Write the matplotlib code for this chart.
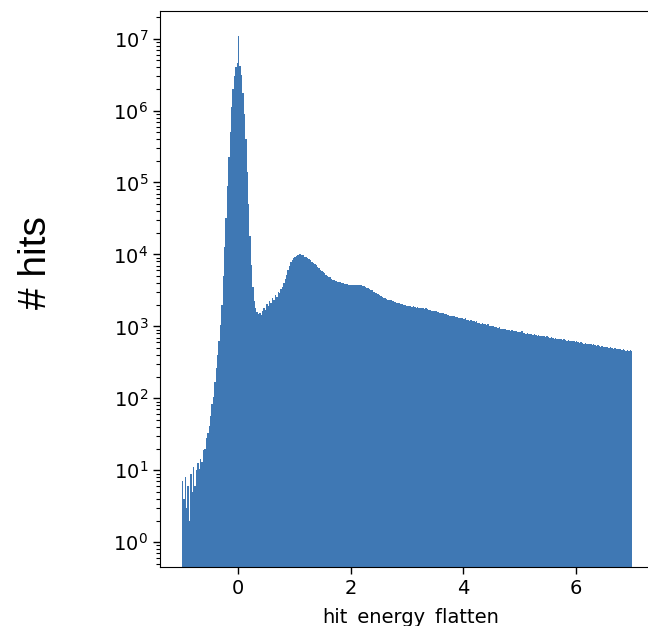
import numpy as np
import matplotlib
matplotlib.use("Agg")
import matplotlib.pyplot as plt
from matplotlib.ticker import LogLocator

# histogram of hit energy, bin width 0.025 from -1 to 7
bin_lo, bin_hi, bin_w = -1.0, 7.0, 0.025

# log10(# hits) per bin, one list per unit of x
log_m1 = [0.85, 0.60, 0.90, 0.48, 0.78, 0.30, 0.95, 0.70, 1.04, 0.78,
          1.00, 1.10, 1.02, 1.15, 1.12, 1.28, 1.30, 1.45, 1.52, 1.62,
          1.75, 1.92, 2.02, 2.22, 2.42, 2.60, 2.80, 3.02, 3.30, 3.70,
          4.10, 4.50, 4.95, 5.35, 5.70, 6.05, 6.30, 6.48, 6.60, 6.66]
log_0 = [7.03, 6.62, 6.50, 6.25, 5.95, 5.60, 5.15, 4.70, 4.25, 3.85,
         3.55, 3.35, 3.25, 3.20, 3.17, 3.19, 3.16, 3.22, 3.26, 3.23,
         3.31, 3.28, 3.35, 3.32, 3.40, 3.37, 3.44, 3.41, 3.48, 3.46,
         3.52, 3.55, 3.60, 3.66, 3.72, 3.78, 3.84, 3.89, 3.92, 3.95]
log_1 = [3.97, 3.98, 3.99, 4.00, 4.00, 3.99, 3.99, 3.97, 3.96, 3.95,
         3.93, 3.92, 3.90, 3.88, 3.87, 3.85, 3.83, 3.81, 3.79, 3.77,
         3.76, 3.74, 3.72, 3.70, 3.69, 3.68, 3.66, 3.65, 3.64, 3.63,
         3.62, 3.61, 3.61, 3.60, 3.60, 3.59, 3.59, 3.59, 3.58, 3.58]
log_2 = [3.58, 3.58, 3.58, 3.57, 3.58, 3.57, 3.57, 3.57, 3.56, 3.56,
         3.55, 3.54, 3.53, 3.52, 3.51, 3.50, 3.48, 3.47, 3.46, 3.45,
         3.43, 3.42, 3.41, 3.40, 3.39, 3.38, 3.37, 3.37, 3.36, 3.35,
         3.35, 3.34, 3.33, 3.33, 3.32, 3.31, 3.31, 3.30, 3.30, 3.29]
log_3 = [3.29, 3.28, 3.28, 3.27, 3.28, 3.27, 3.26, 3.27, 3.26, 3.25,
         3.26, 3.25, 3.24, 3.25, 3.24, 3.23, 3.23, 3.22, 3.22, 3.21,
         3.21, 3.20, 3.20, 3.19, 3.19, 3.18, 3.17, 3.17, 3.16, 3.16,
         3.15, 3.15, 3.14, 3.14, 3.13, 3.13, 3.12, 3.12, 3.11, 3.11]
log_4 = [3.10, 3.11, 3.09, 3.09, 3.08, 3.09, 3.07, 3.07, 3.06, 3.07,
         3.05, 3.05, 3.04, 3.05, 3.03, 3.03, 3.02, 3.03, 3.01, 3.01,
         3.00, 3.01, 2.99, 2.99, 2.98, 2.99, 2.97, 2.97, 2.96, 2.97,
         2.95, 2.95, 2.95, 2.94, 2.95, 2.93, 2.93, 2.94, 2.92, 2.92]
log_5 = [2.92, 2.93, 2.91, 2.91, 2.90, 2.91, 2.90, 2.89, 2.90, 2.88,
         2.89, 2.88, 2.87, 2.88, 2.87, 2.86, 2.87, 2.86, 2.85, 2.86,
         2.85, 2.84, 2.85, 2.84, 2.83, 2.84, 2.83, 2.82, 2.83, 2.82,
         2.81, 2.82, 2.81, 2.80, 2.81, 2.80, 2.79, 2.80, 2.79, 2.78]
log_6 = [2.79, 2.78, 2.77, 2.78, 2.77, 2.76, 2.77, 2.76, 2.75, 2.76,
         2.75, 2.74, 2.75, 2.74, 2.73, 2.74, 2.73, 2.72, 2.73, 2.72,
         2.71, 2.72, 2.71, 2.70, 2.71, 2.70, 2.69, 2.70, 2.69, 2.68,
         2.69, 2.68, 2.67, 2.68, 2.67, 2.66, 2.67, 2.66, 2.67, 2.66]

log_counts = np.array(log_m1 + log_0 + log_1 + log_2 + log_3 + log_4 + log_5 + log_6)
edges = np.arange(bin_lo, bin_hi + bin_w / 2, bin_w)
centers = 0.5 * (edges[:-1] + edges[1:])
counts = 10 ** log_counts

fig = plt.figure(figsize=(6.48, 6.26), dpi=100)
# right spine sits just past the figure edge, as in the cropped original
ax = fig.add_axes([0.247, 0.094, 0.775, 0.888])

ax.hist(centers, bins=edges, weights=counts, color="#3f78b4", log=True)

ax.set_xlim(-1.385, 7.53)
ax.set_ylim(0.45, 10 ** 7.38)
ax.set_xticks([0, 2, 4, 6])
ax.yaxis.set_major_locator(LogLocator(base=10, numticks=20))
ax.yaxis.set_minor_locator(LogLocator(base=10, subs=np.arange(2, 10), numticks=20))
ax.tick_params(axis="both", which="major", labelsize=14, length=5, width=1)
ax.tick_params(axis="y", which="minor", length=3, width=0.8)

ax.set_xlabel("hit_energy_flatten", fontsize=14, labelpad=7)
fig.text(0.055, 0.58, "# hits", rotation=90, fontsize=28,
         family="Liberation Sans", ha="center", va="center")

fig.savefig("out.png", dpi=100)
